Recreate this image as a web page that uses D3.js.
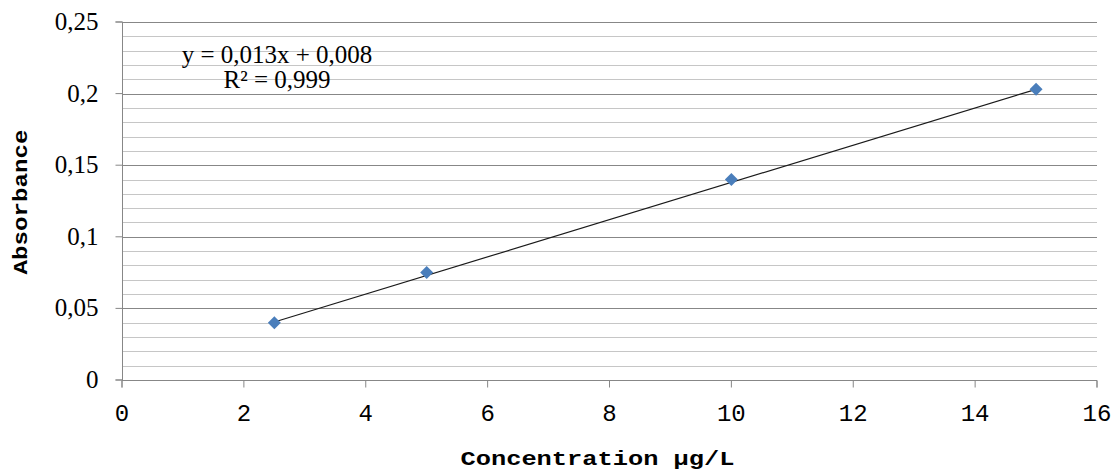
<!DOCTYPE html>
<html>
<head>
<meta charset="utf-8">
<script src="https://cdn.jsdelivr.net/npm/d3@7"></script>
<style>
  body { margin: 0; background: #fff; }
  svg { display: block; }
  .serif { font-family: "Liberation Serif", "Times New Roman", serif; }
  .mono { font-family: "Liberation Mono", "Courier New", monospace; }
</style>
</head>
<body>
<div id="chart"></div>
<script>
// calibration points
const concentration = [2.5, 5, 10, 15];
const absorbance    = [0.04, 0.075, 0.14, 0.203];

// trendline y = 0,013x + 0,008
const slope = 0.013, intercept = 0.008;
const equationLines = ["y = 0,013x + 0,008", "R\u00b2 = 0,999"];

const xTicks = [0, 2, 4, 6, 8, 10, 12, 14, 16];
const yTicks = [0, 0.05, 0.1, 0.15, 0.2, 0.25];
const yMinor = [0.01, 0.02, 0.03, 0.04, 0.06, 0.07, 0.08, 0.09, 0.11, 0.12, 0.13, 0.14,
                0.16, 0.17, 0.18, 0.19, 0.21, 0.22, 0.23, 0.24];

const width = 1116, height = 472;
const margin = { top: 22, right: 19, bottom: 92, left: 122 };

const fmt = d => String(d).replace(".", ",");

const svg = d3.select("#chart").append("svg")
    .attr("width", width)
    .attr("height", height);

const x = d3.scaleLinear().domain([0, 16]).range([margin.left, width - margin.right]);
const y = d3.scaleLinear().domain([0, 0.25]).range([height - margin.bottom, margin.top]);

// minor gridlines
svg.append("g")
    .selectAll("line")
    .data(yMinor)
    .join("line")
    .attr("x1", x(0)).attr("x2", x(16))
    .attr("y1", d => Math.round(y(d)) + 0.5)
    .attr("y2", d => Math.round(y(d)) + 0.5)
    .attr("stroke", "#c6c6c6")
    .attr("stroke-width", 1);

// major gridlines
svg.append("g")
    .selectAll("line")
    .data(yTicks.filter(d => d > 0))
    .join("line")
    .attr("x1", x(0)).attr("x2", x(16))
    .attr("y1", d => Math.round(y(d)) + 0.5)
    .attr("y2", d => Math.round(y(d)) + 0.5)
    .attr("stroke", "#878787")
    .attr("stroke-width", 1);

// y axis
const yAxis = svg.append("g")
    .attr("transform", `translate(${x(0) + 0.5},0)`)
    .call(d3.axisLeft(y).tickValues(yTicks).tickFormat(fmt).tickSize(7).tickPadding(17).offset(0));
yAxis.attr("font-family", null);
yAxis.select(".domain").attr("stroke", "#878787");
yAxis.selectAll(".tick line").attr("stroke", "#878787");
yAxis.selectAll("text")
    .attr("class", "serif")
    .style("font-size", "25px")
    .attr("fill", "#000");

// x axis
const xAxis = svg.append("g")
    .attr("transform", `translate(0,${Math.round(y(0)) + 0.5})`)
    .call(d3.axisBottom(x).tickValues(xTicks).tickFormat(d => d).tickSize(7).tickPadding(16).offset(0));
xAxis.attr("font-family", null);
xAxis.select(".domain").attr("stroke", "#878787");
xAxis.selectAll(".tick line").attr("stroke", "#878787");
xAxis.selectAll("text")
    .attr("class", "mono")
    .style("font-size", "24px")
    .attr("fill", "#000");

// trendline over the data range
const xr = d3.extent(concentration);
svg.append("line")
    .attr("x1", x(xr[0])).attr("y1", y(slope * xr[0] + intercept))
    .attr("x2", x(xr[1])).attr("y2", y(slope * xr[1] + intercept))
    .attr("stroke", "#1a1a1a")
    .attr("stroke-width", 1.2);

// diamond markers
const r = 6.5;
svg.append("g")
    .selectAll("path")
    .data(concentration.map((c, i) => [c, absorbance[i]]))
    .join("path")
    .attr("transform", d => `translate(${x(d[0])},${y(d[1])})`)
    .attr("d", `M0,${-r}L${r},0L0,${r}L${-r},0Z`)
    .attr("fill", "#4a7ebb");

// equation label
svg.append("g")
    .selectAll("text")
    .data(equationLines)
    .join("text")
    .attr("class", "serif")
    .attr("x", 277)
    .attr("y", (d, i) => 63 + i * 25)
    .attr("text-anchor", "middle")
    .style("font-size", "25px")
    .attr("fill", "#000")
    .text(d => d);

// axis titles
svg.append("text")
    .attr("class", "mono")
    .attr("x", x(8) - 12)
    .attr("y", 465)
    .attr("text-anchor", "middle")
    .attr("font-weight", "bold")
    .style("font-size", "20px")
    .attr("textLength", 274)
    .attr("lengthAdjust", "spacingAndGlyphs")
    .text("Concentration \u00b5g/L");

svg.append("text")
    .attr("class", "mono")
    .attr("transform", "translate(27,202) rotate(-90)")
    .attr("text-anchor", "middle")
    .attr("font-weight", "bold")
    .style("font-size", "21px")
    .attr("textLength", 145)
    .attr("lengthAdjust", "spacingAndGlyphs")
    .text("Absorbance");
</script>
</body>
</html>
